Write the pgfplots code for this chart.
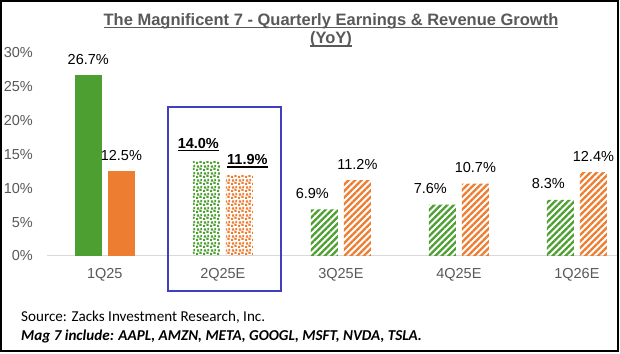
\documentclass[border=0pt]{standalone}
\usepackage{pgfplots}
\pgfplotsset{compat=1.18}
\usetikzlibrary{patterns.meta}
\usepackage{fontspec}
\setmainfont{Liberation Sans}
\newfontfamily\calib{Carlito}
\definecolor{g}{HTML}{4E9F31}
\definecolor{o}{HTML}{ED7D31}
\definecolor{tx}{HTML}{595959}
\definecolor{bx}{HTML}{4040BF}
\definecolor{bl}{HTML}{D9D9D9}
\newcommand\ulx[1]{\setbox0\hbox{#1}\rlap{\rule[-2.6pt]{\wd0}{1.3pt}}\box0}
\pgfdeclarepattern{
  name=confetti, type=uncolored,
  bottom left={\pgfpoint{0pt}{0pt}},
  top right={\pgfpoint{7pt}{7pt}},
  tile size={\pgfpoint{7pt}{7pt}},
  code={
    \pgfpathrectangle{\pgfpoint{0pt}{0pt}}{\pgfpoint{2.4pt}{2.4pt}}
    \pgfpathrectangle{\pgfpoint{3.8pt}{1.4pt}}{\pgfpoint{2.4pt}{2.4pt}}
    \pgfpathrectangle{\pgfpoint{1.0pt}{3.9pt}}{\pgfpoint{2.4pt}{2.4pt}}
    \pgfpathrectangle{\pgfpoint{4.8pt}{4.8pt}}{\pgfpoint{2.0pt}{2.0pt}}
    \pgfusepath{fill}
  }
}
\begin{document}
\begin{tikzpicture}[x=1pt,y=1pt]
\fill[white] (0,0) rectangle (620,353);
\begin{axis}[
  at={(47pt,97pt)}, anchor=south west,
  scale only axis, width=570pt, height=203pt,
  xmin=-0.49, xmax=4.34, ymin=0, ymax=30,
  ybar, bar width=0.229,
  axis line style={draw=none},
  tick style={draw=none}, major tick length=0pt,
  xtick={0,1,2,3,4}, xticklabels={1Q25,2Q25E,3Q25E,4Q25E,1Q26E},
  ytick={0,5,...,30},
  yticklabel={\pgfmathprintnumber{\tick}\%},
  /pgf/number format/assume math mode=true,
  ticklabel style={font=\fontsize{14.5}{17}\selectfont, text=tx},
  yticklabel style={anchor=east, inner sep=0pt, xshift=-14pt},
  xticklabel style={anchor=base, inner sep=0pt, yshift=-22pt},
  clip=false,
  nodes near coords={\pgfmathprintnumber[fixed,fixed zerofill,precision=1]{\pgfplotspointmeta}\%},
  every node near coord/.append style={font=\fontsize{14.5}{17}\selectfont, text=black, anchor=base, yshift=11pt},
]
\draw[bl, line width=1pt] (rel axis cs:0,0) -- (rel axis cs:1,0);
\addplot[fill=g, draw=none, bar shift=-0.14] coordinates {(0,26.7)};
\addplot[fill=o, draw=none, bar shift=0.14] coordinates {(0,12.5)};
\addplot[pattern=confetti, pattern color=g, draw=none, bar shift=-0.14,
  nodes near coords={\ulx{\bfseries\pgfmathprintnumber[fixed,fixed zerofill,precision=1]{\pgfplotspointmeta}\%}},
  every node near coord/.append style={xshift=-8pt, yshift=2pt}] coordinates {(1,14.0)};
\addplot[pattern=confetti, pattern color=o, draw=none, bar shift=0.14,
  nodes near coords={\ulx{\bfseries\pgfmathprintnumber[fixed,fixed zerofill,precision=1]{\pgfplotspointmeta}\%}},
  every node near coord/.append style={xshift=8pt, yshift=-0.5pt}] coordinates {(1,11.9)};
\addplot[pattern={Lines[angle=45,distance=4.6pt,line width=2.3pt]}, pattern color=g, draw=none, bar shift=-0.14,
  every node near coord/.append style={xshift=-12pt}] coordinates {(2,6.9) (3,7.6) (4,8.3)};
\addplot[pattern={Lines[angle=45,distance=4.6pt,line width=2.3pt]}, pattern color=o, draw=none, bar shift=0.14]
  coordinates {(2,11.2) (3,10.7) (4,12.4)};
\end{axis}
\draw[bx, line width=2.2pt] (168,62) rectangle (281,246);
\node[anchor=base, inner sep=0pt, font=\fontsize{16.5}{20}\selectfont\bfseries, text=tx] at (331,327.5) {\ulx{The Magnificent 7 - Quarterly Earnings \& Revenue Growth}};
\node[anchor=base, inner sep=0pt, font=\fontsize{16.5}{20}\selectfont\bfseries, text=tx] at (331,309) {\ulx{(YoY)}};
\node[anchor=base west, inner sep=0pt, font=\calib\fontsize{15.1}{17}\selectfont] at (21,31) {Source: Zacks Investment Research, Inc.};
\node[anchor=base west, inner sep=0pt, font=\calib\fontsize{15.1}{17}\selectfont\bfseries\itshape] at (21,12.5) {Mag 7 include: AAPL, AMZN, META, GOOGL, MSFT, NVDA, TSLA.};
\draw[black, line width=2pt] (1,2) rectangle (617.5,351.8);
\pgfresetboundingbox
\useasboundingbox (0,0) rectangle (620,353);
\end{tikzpicture}
\end{document}
